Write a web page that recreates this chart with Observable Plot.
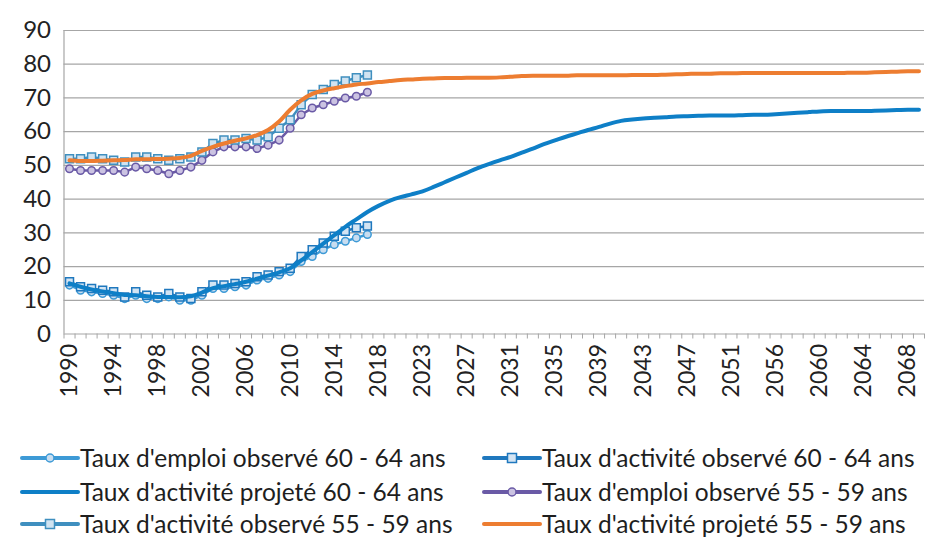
<!DOCTYPE html>
<html><head><meta charset="utf-8">
<script src="https://cdn.jsdelivr.net/npm/d3@7"></script>
<script src="https://cdn.jsdelivr.net/npm/@observablehq/plot@0.6"></script>
<style>
body{margin:0;background:#fff;font-family:Lato,"Open Sans",sans-serif;}
#chart svg{display:block;}
#legend{position:relative;width:939px;height:119px;}
.item{position:absolute;display:flex;align-items:center;font-size:24.5px;color:#1e1e1e;white-space:nowrap;line-height:30px;}
.item svg{display:block;}
</style></head><body>
<div id="chart"></div><div id="legend"></div>
<script>
const years = ["1990","1991","1992","1993","1994","1995","1996","1997","1998","1999","2000","2001","2002","2003","2004","2005","2006","2007","2008","2009","2010","2011","2012","2013","2014","2015","2016","2017","2018",
"2020","2021","2022",
"2023","2024","2025","2026","2027","2028","2029","2030","2031","2032","2033","2034","2035","2036","2037","2038","2039","2040","2041","2042","2043","2044","2045","2046","2047","2048","2049","2050","2051",
"2053","2054","2055",
"2056","2057","2058","2059","2060","2061","2062","2063","2064","2065","2066","2067","2068","2069"];
const tickYears = ["1990","1994","1998","2002","2006","2010","2014","2018","2023","2027","2031","2035","2039","2043","2047","2051","2056","2060","2064","2068"];
const yTicks = [0,10,20,30,40,50,60,70,80,90];
const obsYears = ["1990","1991","1992","1993","1994","1995","1996","1997","1998","1999","2000","2001","2002","2003","2004","2005","2006","2007","2008","2009","2010","2011","2012","2013","2014","2015","2016","2017"];

const emploiObs6064 = [14.5,13,12.5,12,11.5,10.5,11.5,10.5,10.5,11,10,10,11.5,13.5,13.5,14,14.5,16,16.5,17.5,18.5,21.5,23,25,26.5,27.5,28.5,29.5];
const activiteObs6064 = [15.5,14,13.5,13,12.5,11,12.5,11.5,11,12,11,10.5,12.5,14.5,14.5,15,15.5,17,17.5,18.5,19.5,23,25,27,29,30.5,31.5,32];
const emploiObs5559 = [49,48.5,48.5,48.5,48.5,48,49.5,49,48.5,47.5,48.5,49.5,51.5,54,55.5,55.5,55.5,55,56,57.5,61,65,67,68,69,70,70.5,71.7];
const activiteObs5559 = [52,52,52.5,52,51.5,51,52.5,52.5,52,51.5,52,52.5,54,56.5,57.5,57.5,58,57.5,58.5,61,63.5,68,71,72.5,74,75,76,76.8];
const activiteProj6064 = [15,14,13.2,12.6,12.1,11.6,11.5,11.2,11,11,10.9,11.2,12.3,13.6,14.2,14.8,15.5,16.4,17.3,18.3,19.5,21.8,24.3,26.8,29.3,31.8,34,36.2,38,
39.5,40.6,41.4,
42.3,43.6,45,46.4,47.8,49.2,50.4,51.5,52.5,53.8,55,56.3,57.4,58.5,59.5,60.5,61.4,62.4,63.2,63.6,63.9,64.1,64.3,64.5,64.6,64.7,64.8,64.8,64.8,
64.9,65,65,
65.2,65.4,65.6,65.8,66,66.1,66.1,66.1,66.1,66.2,66.3,66.4,66.5,66.5];
const activiteProj5559 = [51.5,51.3,51.3,51.4,51.5,51.6,51.8,51.8,51.9,52,52.2,52.8,54.3,55.5,56.5,57.3,58,59,60.5,63,66.5,69.3,71.2,72.2,72.9,73.5,74,74.3,74.7,
75,75.3,75.5,
75.7,75.8,75.9,75.9,76,76,76,76.1,76.3,76.5,76.6,76.6,76.6,76.6,76.7,76.7,76.7,76.7,76.7,76.8,76.8,76.8,76.9,77,77.1,77.2,77.2,77.3,77.3,
77.4,77.4,77.4,
77.4,77.4,77.4,77.4,77.4,77.4,77.4,77.5,77.5,77.6,77.7,77.8,77.9,77.9];

const seriesNames = ["Taux d'emploi observé 60 - 64 ans","Taux d'activité observé 60 - 64 ans","Taux d'activité projeté 60 - 64 ans","Taux d'emploi observé 55 - 59 ans","Taux d'activité observé 55 - 59 ans","Taux d'activité projeté 55 - 59 ans"];
const seriesColors = ["#3d9ad6","#1f78be","#0e7fc7","#6a5aa6","#3f8fbf","#ed7d31"];
const markerFill = ["#c8ddf0","#d3e4f3",null,"#cbc3e2","#d0e3f1",null];
const markerSymbol = ["circle","square",null,"circle","square",null];

const seriesData = [
  [obsYears, emploiObs6064],
  [obsYears, activiteObs6064],
  [years, activiteProj6064],
  [obsYears, emploiObs5559],
  [obsYears, activiteObs5559],
  [years, activiteProj5559]
].map(([ys, vals], s) => ys.map((y, i) => ({year: y, idx: years.indexOf(y), value: vals[i], s})));

const boundaries = d3.range(years.length + 1).map(i => i - 0.5);
const tickIdx = tickYears.map(y => years.indexOf(y));

const marks = [
  Plot.ruleY(yTicks, {stroke: "#a6a6a6", strokeWidth: 1.2}),
  Plot.ruleX([-0.5], {y1: 0, y2: 90, stroke: "#a6a6a6", strokeWidth: 1.2}),
  Plot.axisY(yTicks, {tickSize: 0, tickPadding: 13, fontSize: 24, fill: "#222", label: null}),
  Plot.axisX(boundaries, {tickSize: 5, tickFormat: () => "", stroke: "#a6a6a6", label: null}),
  Plot.axisX(tickIdx, {tickSize: 0, tickRotate: -90, tickPadding: 10, fontSize: 23, fill: "#222", tickFormat: i => years[i], label: null})
];
seriesData.forEach((data, s) => {
  const proj = markerSymbol[s] === null;
  marks.push(Plot.line(data, {x: "idx", y: "value", stroke: seriesColors[s], strokeWidth: proj ? 4 : 2.5, curve: proj ? "monotone-x" : "linear"}));
  if (!proj) marks.push(Plot.dot(data, {x: "idx", y: "value", symbol: markerSymbol[s], r: markerSymbol[s] === "square" ? 4.5 : 3.8, fill: markerFill[s], stroke: seriesColors[s], strokeWidth: 1.5}));
});

const chart = Plot.plot({
  width: 939, height: 420,
  marginLeft: 63.5, marginRight: 15, marginTop: 30, marginBottom: 86.5,
  x: {type: "linear", domain: [-0.5, years.length - 0.5], axis: null, label: null},
  y: {domain: [0, 90], axis: null, label: null},
  style: {fontFamily: "Lato, 'Open Sans', sans-serif", background: "#fff", overflow: "visible"},
  marks
});
document.getElementById("chart").appendChild(chart);

// legend
const legend = document.getElementById("legend");
const positions = [[20, 38], [482, 38], [20, 72], [482, 72], [20, 104], [482, 104]];
seriesNames.forEach((name, s) => {
  const div = document.createElement("div");
  div.className = "item";
  div.style.left = positions[s][0] + "px";
  div.style.top = (positions[s][1] - 15) + "px";
  const w = 60;
  let sw = `<svg width="${w}" height="20"><line x1="2" y1="10" x2="${w-2}" y2="10" stroke="${seriesColors[s]}" stroke-width="4" stroke-linecap="round"/>`;
  if (markerSymbol[s] === "circle") sw += `<circle cx="${w/2}" cy="10" r="4" fill="${markerFill[s]}" stroke="${seriesColors[s]}" stroke-width="1.5"/>`;
  if (markerSymbol[s] === "square") sw += `<rect x="${w/2-4.5}" y="5.5" width="9" height="9" fill="${markerFill[s]}" stroke="${seriesColors[s]}" stroke-width="1.5"/>`;
  sw += `</svg>`;
  div.innerHTML = sw + `<span>${name}</span>`;
  legend.appendChild(div);
});
</script>
</body></html>
